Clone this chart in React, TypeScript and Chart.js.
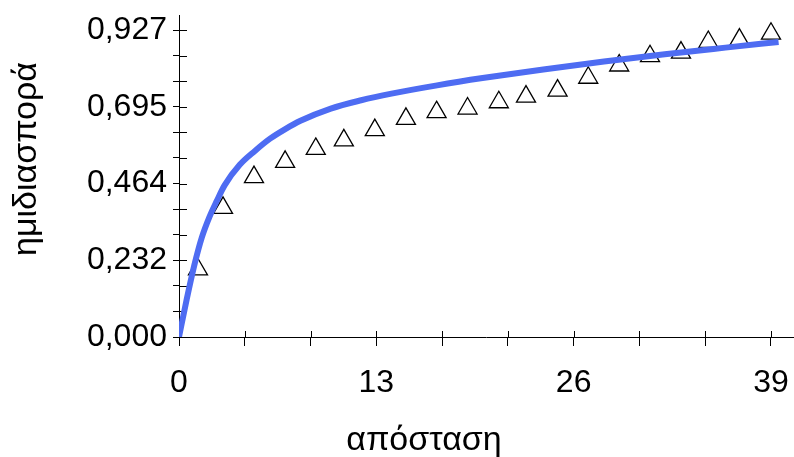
import React, { useEffect, useRef } from 'react';
import { Chart, registerables } from 'chart.js';

Chart.register(...registerables);

// Observed semivariogram (lag distance, semivariance)
const lagDistances = [1.25, 2.9, 4.94, 6.99, 9.01, 10.86, 12.9, 14.95, 16.97, 19.01, 21.07, 22.86, 24.94, 26.96, 29.0, 31.03, 33.07, 34.87, 36.92, 39.0];
const observedSemivariance = [0.204, 0.39, 0.483, 0.529, 0.568, 0.594, 0.625, 0.659, 0.679, 0.69, 0.709, 0.726, 0.744, 0.783, 0.82, 0.848, 0.859, 0.891, 0.898, 0.916];

// Fitted model curve
const modelDistances = [0, 0.5, 1, 1.5, 2, 2.5, 3, 4, 5, 6, 7, 8, 10, 12, 14, 17, 20, 24, 28, 32, 36, 39.5];
const modelSemivariance = [0, 0.112, 0.215, 0.3, 0.362, 0.412, 0.458, 0.52, 0.562, 0.599, 0.628, 0.653, 0.69, 0.715, 0.735, 0.76, 0.782, 0.808, 0.832, 0.854, 0.874, 0.891];

// Axis ticks
const xMajorTickValues = [0, 13, 26, 39];
const xMajorTickLabels = ['0', '13', '26', '39'];
const yMajorTickValues = [0, 0.23175, 0.4635, 0.69525, 0.927];
const yMajorTickLabels = ['0,000', '0,232', '0,464', '0,695', '0,927'];
const minorPerMajor = 3;
const xAxisMax = 40.45;
const yAxisMax = 0.9725;

const xTitle = 'απόσταση';
const yTitle = 'ημιδιασπορά';

function expandTicks(majors: number[]): number[] {
  const out: number[] = [];
  for (let i = 0; i < majors.length; i++) {
    out.push(majors[i]);
    if (i < majors.length - 1) {
      const step = (majors[i + 1] - majors[i]) / minorPerMajor;
      for (let k = 1; k < minorPerMajor; k++) out.push(majors[i] + step * k);
    }
  }
  return out;
}

const FONT_FAMILY = '"Liberation Sans", Arial, sans-serif';
const PLOT_LEFT = 179;
const PLOT_RIGHT_GAP = 1;

function zeroPadding(scale: any) {
  scale.paddingTop = 0;
  scale.paddingBottom = 0;
  scale.paddingLeft = 0;
  scale.paddingRight = 0;
}

export default function App() {
  const canvasRef = useRef<HTMLCanvasElement | null>(null);

  useEffect(() => {
    document.body.style.margin = '0';
    const canvas = canvasRef.current;
    if (!canvas) return;

    const xTicks = expandTicks(xMajorTickValues);
    const yTicks = expandTicks(yMajorTickValues);

    // keep the plot area spanning to the right edge like the reference
    const fixArea = {
      id: 'fixArea',
      afterLayout(chart: any) {
        const ca = chart.chartArea;
        const targetRight = chart.width - PLOT_RIGHT_GAP;
        const xs = chart.scales.x;
        ca.left = PLOT_LEFT;
        ca.right = targetRight;
        ca.width = ca.right - ca.left;
        xs.left = PLOT_LEFT;
        xs.right = targetRight;
        xs.width = xs.right - xs.left;
        xs.configure();
      },
    };

    const innerTicks = {
      id: 'innerTicks',
      beforeDatasetsDraw(chart: any) {
        const { ctx, chartArea } = chart;
        const xs = chart.scales.x;
        const ys = chart.scales.y;
        ctx.save();
        ctx.strokeStyle = '#000';
        ctx.lineWidth = 1;
        ctx.beginPath();
        xs.ticks.forEach((_t: any, i: number) => {
          const px = Math.round(xs.getPixelForTick(i)) + 0.5;
          ctx.moveTo(px, chartArea.bottom);
          ctx.lineTo(px, chartArea.bottom - 6);
        });
        ys.ticks.forEach((_t: any, i: number) => {
          const py = Math.round(ys.getPixelForTick(i)) + 0.5;
          ctx.moveTo(chartArea.left, py);
          ctx.lineTo(chartArea.left + 8, py);
        });
        ctx.stroke();
        ctx.restore();
      },
    };

    const titles = {
      id: 'axisTitles',
      afterDraw(chart: any) {
        const { ctx } = chart;
        ctx.save();
        ctx.fillStyle = '#000';
        ctx.font = `34px ${FONT_FAMILY}`;
        ctx.textAlign = 'center';
        ctx.textBaseline = 'alphabetic';
        ctx.fillText(xTitle, 424, 450);
        ctx.translate(36, 159);
        ctx.rotate(-Math.PI / 2);
        ctx.fillText(yTitle, 0, 0);
        ctx.restore();
      },
    };

    const chart = new Chart(canvas, {
      type: 'scatter',
      data: {
        datasets: [
          {
            type: 'line',
            label: 'model',
            data: modelDistances.map((x, i) => ({ x, y: modelSemivariance[i] })),
            borderColor: 'rgb(78, 108, 242)',
            borderWidth: 6,
            pointRadius: 0,
            fill: false,
            cubicInterpolationMode: 'monotone',
            order: 0,
          } as any,
          {
            type: 'scatter',
            label: 'observed',
            data: lagDistances.map((x, i) => ({ x, y: observedSemivariance[i] })),
            pointStyle: 'triangle',
            pointRadius: 11,
            borderColor: '#000',
            borderWidth: 1.3,
            backgroundColor: 'rgba(255,255,255,0)',
            order: 1,
          } as any,
        ],
      },
      options: {
        animation: false,
        responsive: false,
        maintainAspectRatio: false,
        devicePixelRatio: 1,
        layout: { padding: { top: 15, right: PLOT_RIGHT_GAP, left: 0, bottom: 0 } },
        plugins: {
          legend: { display: false },
          tooltip: { enabled: false },
          title: { display: false },
        },
        scales: {
          x: {
            type: 'linear',
            min: 0,
            max: xAxisMax,
            afterBuildTicks: (scale: any) => {
              scale.ticks = xTicks.map((v) => ({ value: v }));
            },
            afterFit: (scale: any) => {
              scale.height = 120;
              zeroPadding(scale);
            },
            ticks: {
              autoSkip: false,
              maxRotation: 0,
              padding: 18,
              color: '#000',
              font: { family: FONT_FAMILY, size: 32 },
              callback: (_v: any, index: number) =>
                index % minorPerMajor === 0 ? xMajorTickLabels[index / minorPerMajor] : '',
            },
            grid: { drawOnChartArea: false, drawTicks: true, tickLength: 9, color: '#000', lineWidth: 1 },
            border: { display: true, color: '#000', width: 1 },
          },
          y: {
            type: 'linear',
            min: 0,
            max: yAxisMax,
            afterBuildTicks: (scale: any) => {
              scale.ticks = yTicks.map((v) => ({ value: v }));
            },
            afterFit: (scale: any) => {
              scale.width = PLOT_LEFT;
              zeroPadding(scale);
            },
            ticks: {
              autoSkip: false,
              padding: 6,
              color: '#000',
              font: { family: FONT_FAMILY, size: 32 },
              callback: (_v: any, index: number) =>
                index % minorPerMajor === 0 ? yMajorTickLabels[index / minorPerMajor] : '',
            },
            grid: { drawOnChartArea: false, drawTicks: true, tickLength: 6, color: '#000', lineWidth: 1 },
            border: { display: true, color: '#000', width: 1 },
          },
        },
      },
      plugins: [fixArea, innerTicks, titles],
    });

    return () => chart.destroy();
  }, []);

  return (
    <div style={{ width: 794, height: 457, background: '#fff' }}>
      <canvas ref={canvasRef} width={794} height={457} style={{ display: 'block' }} />
    </div>
  );
}
